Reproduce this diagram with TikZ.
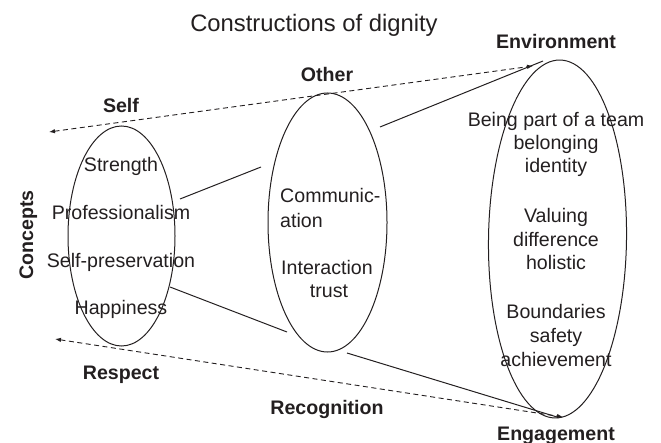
\documentclass[tikz,border=0pt]{standalone}
\usepackage{fontspec}
\setmainfont{Liberation Sans}
\usetikzlibrary{shapes.geometric,arrows.meta}
\definecolor{ink}{RGB}{35,31,32}
\begin{document}
\begin{tikzpicture}[x=1bp,y=-1bp,
  txt/.style={font=\fontsize{19.6bp}{23.5bp}\selectfont, text=ink, anchor=base, inner sep=0pt},
  head/.style={txt, font=\fontsize{19.6bp}{23.5bp}\selectfont\bfseries},
  ring/.style={ellipse, draw=ink, line width=1bp, inner sep=0pt},
  rim/.style={draw=ink, line width=1bp},
  flow/.style={draw=ink, line width=0.9bp, dash pattern=on 5bp off 3.5bp,
    {Latex[length=6bp,width=4.5bp]}-{Latex[length=6bp,width=4.5bp]}},
]
\useasboundingbox (0,0) rectangle (661,443);

% title
\node[txt, font=\fontsize{23.8bp}{28bp}\selectfont] (title) at (314,32) {Constructions of dignity};

% the three rings
\node[ring, minimum width=107bp, minimum height=220bp] (self) at (121.5,236) {};
\node[ring, minimum width=119bp, minimum height=259bp] (other) at (327.5,222.5) {};
\node[ring, minimum width=138bp, minimum height=358bp, rotate=-0.8] (env) at (557.5,239) {};

% end points of the connecting lines
\coordinate (s1) at (180,199);
\coordinate (o1) at (261,167);
\coordinate (s2) at (170,287);
\coordinate (o2) at (287,332);
\coordinate (o3) at (380,127);
\coordinate (e3) at (543,61);
\coordinate (o4) at (347,353);
\coordinate (e4) at (557,417);
\draw[rim] (s1) -- (o1);
\draw[rim] (s2) -- (o2);
\draw[rim] (o3) -- (e3);
\draw[rim] (o4) -- (e4);

% dashed double arrows
\coordinate (topl) at (49,132);
\coordinate (topr) at (533,66);
\coordinate (botl) at (55,339);
\coordinate (botr) at (563,417);
\draw[flow] (topl) -- (topr);
\draw[flow] (botl) -- (botr);

% headings
\node[head] (hself) at (121,113) {Self};
\node[head] (hother) at (327,82) {Other};
\node[head] (henv) at (556,49) {Environment};
\node[head] (hresp) at (121,379) {Respect};
\node[head] (hrec) at (327,414) {Recognition};
\node[head] (heng) at (556,440) {Engagement};
\node[head, rotate=90] (hcon) at (33,235) {Concepts};

% self
\node[txt] (t1) at (121,172) {Strength};
\node[txt] (t2) at (121,220) {Professionalism};
\node[txt] (t3) at (121,268) {Self-preservation};
\node[txt] (t4) at (121,315) {Happiness};

% other
\node[txt, anchor=base west] (m1) at (280,203) {Communic-};
\node[txt, anchor=base west] (m2) at (280,228) {ation};
\node[txt] (m3) at (327,275) {Interaction};
\node[txt] (m4) at (329,298) {trust};

% environment
\node[txt] (r1) at (556,127) {Being part of a team};
\node[txt] (r2) at (556,150) {belonging};
\node[txt] (r3) at (556,173) {identity};
\node[txt] (r4) at (556,223) {Valuing};
\node[txt] (r5) at (556,247) {difference};
\node[txt] (r6) at (556,270) {holistic};
\node[txt] (r7) at (556,319) {Boundaries};
\node[txt] (r8) at (556,342) {safety};
\node[txt] (r9) at (556,366) {achievement};
\end{tikzpicture}
\end{document}
